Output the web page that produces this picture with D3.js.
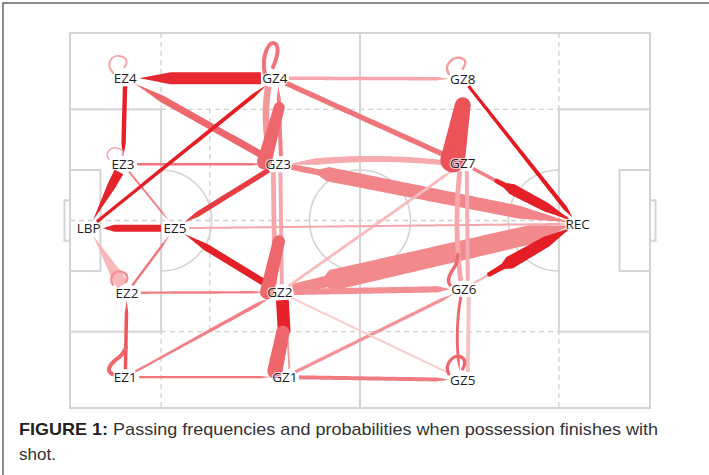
<!DOCTYPE html>
<html><head><meta charset="utf-8">
<script src="https://cdn.jsdelivr.net/npm/d3@7"></script>
<style>body{margin:0;background:#fff;} svg{display:block;}</style>
</head><body>
<svg id="chart" width="709" height="475"></svg>
<script>
// ---------------- data ----------------
const nodeNames = ["EZ4","GZ4","GZ8","EZ3","GZ3","GZ7","LBP","EZ5","REC","EZ2","GZ2","GZ6","EZ1","GZ1","GZ5"];
// zone centres in pitch metres (105 x 68)
const nodeX = [10.0, 37.1, 71.1, 9.6, 37.7, 71.1, 3.4, 19.0, 91.9, 10.3, 38.0, 71.3, 10.0, 38.9, 71.1];
const nodeY = [8.2, 8.2, 8.3, 23.8, 23.8, 23.6, 35.4, 35.4, 34.6, 47.1, 47.0, 46.4, 62.4, 62.4, 62.9];

// passes between zones: frequency (width) and probability (colour)
const edgeFrom = ["GZ2","GZ3","GZ7","GZ4","GZ4","GZ2","GZ2","GZ1","GZ2","GZ1","EZ5","REC","REC","GZ6","GZ7","GZ5","GZ6","GZ4","GZ3","GZ3","GZ2","GZ1","GZ2","GZ3","EZ3","EZ3","EZ2","EZ2","EZ1","EZ1","EZ1","EZ2","GZ3","GZ2","EZ5","EZ3","EZ4","LBP","GZ4","GZ7","GZ6","GZ8"];
const edgeTo   = ["REC","REC","GZ3","GZ8","GZ7","GZ6","GZ7","GZ6","GZ5","GZ5","REC","GZ6","GZ7","GZ7","GZ6","GZ6","GZ5","GZ3","GZ4","GZ2","GZ3","GZ2","GZ1","EZ4","GZ3","EZ5","EZ5","GZ2","GZ2","GZ1","EZ2","LBP","EZ5","EZ5","LBP","LBP","EZ3","GZ4","EZ4","REC","REC","REC"];
const edgeFreq = [95, 65, 30, 16, 24, 28, 13, 15, 9, 18, 9, 12, 16, 18, 22, 18, 13, 30, 18, 22, 18, 9, 58, 32, 11, 9, 11, 11, 17, 11, 16, 55, 24, 32, 32, 45, 20, 18, 55, 50, 58, 20];
const edgeProb = [0.45, 0.47, 0.28, 0.3, 0.55, 0.42, 0.2, 0.4, 0.12, 0.52, 0.3, 0.2, 0.5, 0.28, 0.3, 0.18, 0.62, 0.38, 0.5, 0.3, 0.3, 0.35, 0.96, 0.62, 0.55, 0.5, 0.55, 0.5, 0.5, 0.55, 0.7, 0.22, 0.83, 0.97, 0.95, 0.95, 0.97, 0.98, 0.93, 0.97, 0.98, 1.0];
// passes that stay in the same zone
const loopNode = ["GZ7","GZ3","GZ2","GZ1","GZ4","GZ8","GZ5","GZ6","EZ4","EZ3","EZ2","EZ1"];
const loopFreq = [80, 55, 55, 60, 18, 11, 15, 16, 9, 7, 12, 18];
const loopProb = [0.72, 0.62, 0.62, 0.62, 0.55, 0.35, 0.62, 0.6, 0.3, 0.3, 0.4, 0.62];

const captionBold = "FIGURE 1:";
const captionLines = [" Passing frequencies and probabilities when possession finishes with", "shot."];

// ---------------- drawing styles ----------------
const edgeStyle = {
  "GZ2>REC": {profile: [[0,0.5],[0.12,0.55],[0.14,1],[0.86,0.92],[1,0]]},
  "GZ3>REC": {profile: [[0,0.4],[0.1,0.45],[0.13,1],[0.82,0.9],[1,0]]},
  "GZ7>GZ3": {bend: 0.06, profile: [[0,0.8],[0.85,1],[1,0.2]]},
  "REC>GZ7": {profile: [[0,1],[1,1]]},
  "REC>GZ6": {profile: [[0,1],[1,1]]},
  "GZ7>REC": {profile: [[0,0],[0.22,0],[0.23,0.4],[0.33,0.5],[0.4,1],[0.75,0.85],[1,0]], fw: 11},
  "GZ6>REC": {profile: [[0,0],[0.14,0],[0.15,0.35],[0.3,0.45],[0.37,1],[0.75,0.85],[1,0]], fw: 13},
  "GZ8>REC": {profile: [[0,0.7],[0.93,1],[1,0]]},
  "GZ5>REC": {profile: [[0,0.5],[0.93,1],[1,0]]},
  "GZ6>GZ7": {shift: 4, profile: [[0,1],[1,1]]},
  "GZ7>GZ6": {shift: 3, bend: 0.06, profile: [[0,1],[1,1]]},
  "GZ6>GZ5": {shift: 3, bend: 0.08},
  "GZ5>GZ6": {shift: 5, profile: [[0,1],[1,1]]},
  "GZ4>GZ3": {shift: 7, bend: 0.1},
  "GZ3>GZ4": {shift: 3},
  "GZ3>GZ2": {shift: 5, profile: [[0,1],[1,1]]},
  "GZ2>GZ3": {shift: 2, profile: [[0,1],[1,1]]},
  "GZ1>GZ2": {shift: 5, profile: [[0,1],[1,1]]},
  "GZ2>GZ1": {shift: -2, profile: [[0,1],[0.45,1],[0.55,0.5],[0.58,0],[1,0]]},
  "EZ3>LBP": {profile: [[0,1],[0.3,0.85],[1,0]]},
  "EZ2>LBP": {profile: [[0,1],[0.25,0.9],[1,0]]},
  "GZ4>EZ4": {profile: [[0,1],[0.74,1],[1,0]]},
  "GZ2>EZ5": {profile: [[0,1],[0.75,1],[1,0]]},
  "GZ3>EZ5": {profile: [[0,1],[0.85,1],[1,0]]},
  "GZ3>EZ4": {profile: [[0,1],[0.8,1],[1,0]]},
  "EZ5>LBP": {profile: [[0,1],[0.8,1],[1,0]]},
  "LBP>GZ4": {profile: [[0,0.8],[0.92,1],[1,0]]},
  "EZ4>EZ3": {profile: [[0,1],[0.82,1],[1,0]]},
  "EZ1>GZ2": {profile: [[0,0.6],[0.9,1],[1,0]]}
};
const loopStyle = {
  GZ7: {base: [-10,-3], apex: [0,-58], w0: 1.4, w1: 0.9},
  GZ3: {base: [-14,-2], apex: [1,-57], w0: 1.2, w1: 0.9},
  GZ2: {base: [-13,0], apex: [-1,-51], w0: 1.15, w1: 1.0},
  GZ1: {base: [-10,-6], apex: [-2,-45], w0: 1.15, w1: 1.0},
  EZ4: {curl: "M-12,-5 C-21,-15 -13,-24 -5,-22 C2,-21 3,-15 -1,-11"},
  EZ3: {curl: "M-14,-5 C-19,-12 -12,-18 -5,-16 C0,-15 1,-12 -1,-9"},
  EZ2: {curl: "M-14,-8 C-19,-18 -10,-24 -3,-20 C1,-18 1,-14 -1,-11"},
  EZ1: {curl: "M-13,-3 C-21,-7 -13,-15 -6,-20 C-3,-22 -1,-26 1,-30"},
  GZ4: {curl: "M-10,-4 C-14,-24 -5,-40 1,-34 C5,-29 1,-18 -2,-11"},
  GZ8: {curl: "M-14,-5 C-20,-15 -8,-24 0,-20 C4,-18 3,-14 0,-10"},
  GZ5: {curl: "M-14,-6 C-19,-16 -9,-26 -2,-23 C3,-21 3,-16 0,-11"},
  GZ6: {curl: "M-14,-4 C-18,-10 -12,-18 -8,-24 C-7,-27 -6,-30 -6,-34"}
};

// ---------------- scales ----------------
const svg = d3.select("#chart");
const x = d3.scaleLinear().domain([0,105]).range([70,650]);
const y = d3.scaleLinear().domain([0,68]).range([33,408]);
const widthScale = d3.scaleLinear().domain([0,100]).range([0,22]);
const colorScale = d3.scaleLinear().domain([0,1]).range(["#fde4e5","#e41a22"]).interpolate(d3.interpolateRgb);

const nodes = {};
nodeNames.forEach((n,i) => nodes[n] = [x(nodeX[i]), y(nodeY[i])]);

// ---------------- pitch ----------------
const gP = svg.append("g").attr("fill","none");
const solid = {stroke:"#d4d4d4", "stroke-width":2};
const dash = {stroke:"#d0d0d0", "stroke-width":1.3, "stroke-dasharray":"5,4"};
function ln(x1,y1,x2,y2,st){ const l=gP.append("line").attr("x1",x(x1)).attr("y1",y(y1)).attr("x2",x(x2)).attr("y2",y(y2)); for(const k in st) l.attr(k,st[k]); }
function rc(x1,y1,w,h){ const r=gP.append("rect").attr("x",x(x1)).attr("y",y(y1)).attr("width",x(x1+w)-x(x1)).attr("height",y(y1+h)-y(y1)); for(const k in solid) r.attr(k,solid[k]); }
ln(16.5,0,16.5,68,dash); ln(88.5,0,88.5,68,dash); ln(25.3,13.84,25.3,54.16,dash);
ln(16.5,13.84,88.5,13.84,dash); ln(16.5,54.16,88.5,54.16,dash); ln(0,34,88.5,34,dash);
rc(0,0,105,68);
ln(52.5,0,52.5,68,solid);
rc(0,13.84,16.5,40.32); rc(88.5,13.84,16.5,40.32);
rc(0,24.84,5.5,18.32); rc(99.5,24.84,5.5,18.32);
rc(-1,30.34,1,7.32); rc(105,30.34,1,7.32);
const R = x(9.15)-x(0);
gP.append("circle").attr("cx",x(52.5)).attr("cy",y(34)).attr("r",R).attr("stroke","#d4d4d4").attr("stroke-width",1.6);
gP.append("path").attr("d", d3.arc()({innerRadius:R,outerRadius:R,startAngle:0,endAngle:Math.PI}))
  .attr("transform",`translate(${x(16.5)},${y(34)})`).attr("stroke","#d4d4d4").attr("stroke-width",1.6);
gP.append("path").attr("d", d3.arc()({innerRadius:R,outerRadius:R,startAngle:Math.PI,endAngle:2*Math.PI}))
  .attr("transform",`translate(${x(88.5)},${y(34)})`).attr("stroke","#d4d4d4").attr("stroke-width",1.6);

// ---------------- edge geometry ----------------
function samplesOf(profile, N){
  const out=[];
  for(let k=0;k<profile.length-1;k++){
    const [t0,w0]=profile[k],[t1,w1]=profile[k+1];
    const n=Math.max(1,Math.ceil((t1-t0)*N));
    for(let i=0;i<n;i++){const f=i/n; out.push([t0+(t1-t0)*f, w0+(w1-w0)*f]);}
  }
  out.push(profile[profile.length-1]);
  return out;
}
function bandPoints(p0,p1,bend,profile,wpx){
  const dx=p1[0]-p0[0], dy=p1[1]-p0[1];
  const c=[(p0[0]+p1[0])/2 - dy*bend, (p0[1]+p1[1])/2 + dx*bend];
  const left=[], right=[];
  for(const [t,w] of samplesOf(profile,60)){
    const mt=1-t;
    const px=mt*mt*p0[0]+2*mt*t*c[0]+t*t*p1[0];
    const py=mt*mt*p0[1]+2*mt*t*c[1]+t*t*p1[1];
    const tx=2*mt*(c[0]-p0[0])+2*t*(p1[0]-c[0]);
    const ty=2*mt*(c[1]-p0[1])+2*t*(p1[1]-c[1]);
    const tl=Math.hypot(tx,ty)||1, nx=-ty/tl, ny=tx/tl, hw=w*wpx/2;
    left.push([px+nx*hw,py+ny*hw]); right.push([px-nx*hw,py-ny*hw]);
  }
  return left.concat(right.reverse());
}
function pad(ux,uy,rx,ry){ return 1/Math.sqrt((ux/rx)**2+(uy/ry)**2); }
const poly = d3.line().curve(d3.curveLinearClosed);

const gE = svg.append("g");
edgeFrom.forEach((s,i) => {
  const t = edgeTo[i], key = s+">"+t, st = edgeStyle[key] || {};
  const a = nodes[s], b = nodes[t];
  const dx=b[0]-a[0], dy=b[1]-a[1], L=Math.hypot(dx,dy), ux=dx/L, uy=dy/L;
  const nx=-uy, ny=ux, sh=st.shift||0;
  const ps=pad(ux,uy,14,8), pt=t==="REC"?pad(ux,uy,8,8):pad(ux,uy,14,8);
  const p0=[a[0]+ux*ps+nx*sh, a[1]+uy*ps+ny*sh];
  const p1=[b[0]-ux*pt+nx*sh, b[1]-uy*pt+ny*sh];
  const len=Math.hypot(p1[0]-p0[0],p1[1]-p0[1]);
  const h=Math.min(12/len,0.3);
  const profile = st.profile || [[0,1],[1-h,1],[1,0]];
  const wpx = st.fw ? st.fw : widthScale(edgeFreq[i]);
  gE.append("path").attr("d", poly(bandPoints(p0,p1,st.bend||0,profile,wpx)))
    .attr("fill", colorScale(edgeProb[i]));
});

// ---------------- loops ----------------
const gL = svg.append("g");
loopNode.forEach((n,i) => {
  const st = loopStyle[n], c = nodes[n], col = colorScale(loopProb[i]), w = widthScale(loopFreq[i]);
  if (st.curl){
    gL.append("path").attr("d", st.curl).attr("transform",`translate(${c[0]},${c[1]})`)
      .attr("fill","none").attr("stroke",col).attr("stroke-width",w).attr("stroke-linecap","round");
  } else {
    const p0=[c[0]+st.base[0], c[1]+st.base[1]], p1=[c[0]+st.apex[0], c[1]+st.apex[1]];
    gL.append("path").attr("d", poly(bandPoints(p0,p1,0,[[0,st.w0],[1,st.w1]],w))).attr("fill",col);
    gL.append("circle").attr("cx",p0[0]).attr("cy",p0[1]).attr("r",w*st.w0/2).attr("fill",col);
    gL.append("circle").attr("cx",p1[0]).attr("cy",p1[1]).attr("r",w*st.w1/2).attr("fill",col);
  }
});

// ---------------- labels ----------------
svg.append("g").selectAll("text").data(nodeNames).join("text")
  .attr("x", d => nodes[d][0]).attr("y", d => nodes[d][1]).attr("dy","0.36em")
  .attr("text-anchor","middle").attr("font-family","'Open Sans', 'DejaVu Sans', sans-serif")
  .attr("font-size",13.5).attr("fill","#1e1e1e")
  .attr("stroke","#fff").attr("stroke-width",2.2).attr("stroke-opacity",0.7).attr("paint-order","stroke")
  .text(d => d);

// ---------------- caption & frame ----------------
const cap = svg.append("g").attr("font-family","'Liberation Sans', Arial, sans-serif").attr("font-size",17).attr("fill","#333");
const t1 = cap.append("text").attr("x",19).attr("y",435);
t1.append("tspan").attr("font-weight","bold").attr("fill","#222").text(captionBold);
t1.append("tspan").text(captionLines[0]);
cap.append("text").attr("x",19).attr("y",460).text(captionLines[1]);
const wMeas = t1.node().getComputedTextLength();
if (Math.abs(wMeas-639) > 6) t1.attr("textLength",639).attr("lengthAdjust","spacingAndGlyphs");

svg.append("rect").attr("x",3).attr("y",3).attr("width",720).attr("height",500)
  .attr("fill","none").attr("stroke","#666").attr("stroke-width",1.5);
</script>
</body></html>
